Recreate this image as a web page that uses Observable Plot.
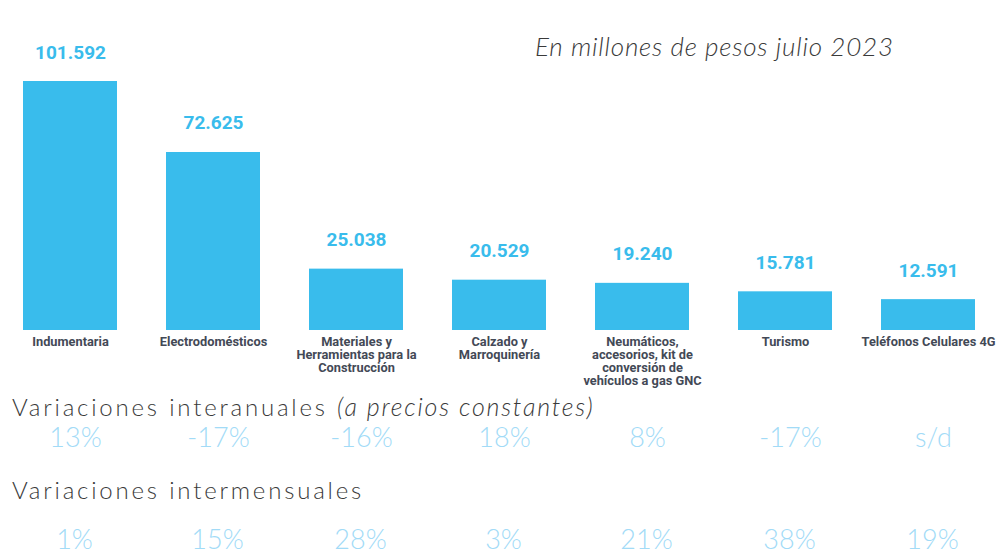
<!DOCTYPE html>
<html>
<head>
<meta charset="utf-8">
<script src="https://cdn.jsdelivr.net/npm/d3@7"></script>
<script src="https://cdn.jsdelivr.net/npm/@observablehq/plot@0.6"></script>
<style>
  html, body { margin: 0; padding: 0; background: #fff; }
  #wrap { position: relative; width: 1002px; height: 555px; overflow: hidden; }
  .note { position: absolute; font-family: Lato, "Open Sans", sans-serif; font-weight: 300; white-space: nowrap; }
  #unit { left: 535px; top: 30px; font-size: 26px; font-style: italic; color: #3a3a3a; letter-spacing: 0.8px; }
  .rowtitle { left: 12px; font-size: 24px; color: #3a3a3a; letter-spacing: 2.8px; }
  #t1 { top: 391px; }
  #t2 { top: 475px; }
  .rowtitle i { letter-spacing: 1.8px; font-size: 25px; }
  g[aria-label="pct"] text { letter-spacing: 2px; }
</style>
</head>
<body>
<div id="wrap">
  <div id="chart"></div>
  <div class="note" id="unit">En millones de pesos julio 2023</div>
  <div class="note rowtitle" id="t1">Variaciones interanuales <i>(a precios constantes)</i></div>
  <div class="note rowtitle" id="t2">Variaciones intermensuales</div>
</div>
<script>
const categories = [
  "Indumentaria",
  "Electrodomésticos",
  "Materiales y\nHerramientas para la\nConstrucción",
  "Calzado y\nMarroquinería",
  "Neumáticos,\naccesorios, kit de\nconversión de\nvehículos a gas GNC",
  "Turismo",
  "Teléfonos Celulares 4G"
];
const values = [101592, 72625, 25038, 20529, 19240, 15781, 12591];
const valueLabels = ["101.592", "72.625", "25.038", "20.529", "19.240", "15.781", "12.591"];
const interanual = ["13%", "-17%", "-16%", "18%", "8%", "-17%", "s/d"];
const intermensual = ["1%", "15%", "28%", "3%", "21%", "38%", "19%"];

const data = categories.map((c, i) => ({
  cat: c, value: values[i], label: valueLabels[i], ia: interanual[i], im: intermensual[i]
}));

const barColor = "#39bcec";
const pctColor = "#a2dbf7";

const chart = Plot.plot({
  width: 1002,
  height: 555,
  marginTop: 81,
  marginBottom: 225,
  marginLeft: 0,
  marginRight: 0,
  style: { fontFamily: "Roboto, sans-serif", background: "transparent" },
  x: { domain: categories, range: [-4, 1001], paddingInner: 0.345, paddingOuter: 0.1725, axis: null },
  y: { domain: [0, 101592], axis: null },
  marks: [
    Plot.barY(data, { x: "cat", y: "value", fill: barColor }),
    Plot.text(data, { x: "cat", y: "value", text: "label", dy: -23, lineAnchor: "bottom",
      fontSize: 19, fontWeight: 700, fill: barColor }),
    Plot.text(data, { x: "cat", y: 0, text: "cat", lineAnchor: "top", dy: 6,
      fontSize: 12.8, fontWeight: 700, fill: "#434956", lineHeight: 1.03 }),
    Plot.text(data, { x: "cat", y: 0, text: "ia", dy: 108, dx: 5, lineAnchor: "middle",
      fontSize: 27, fontWeight: 300, fontFamily: "Lato, 'Open Sans', sans-serif", fill: pctColor, ariaLabel: "pct" }),
    Plot.text(data, { x: "cat", y: 0, text: "im", dy: 210, dx: 4, lineAnchor: "middle",
      fontSize: 27, fontWeight: 300, fontFamily: "Lato, 'Open Sans', sans-serif", fill: pctColor, ariaLabel: "pct" })
  ]
});
document.getElementById("chart").appendChild(chart);
</script>
</body>
</html>
